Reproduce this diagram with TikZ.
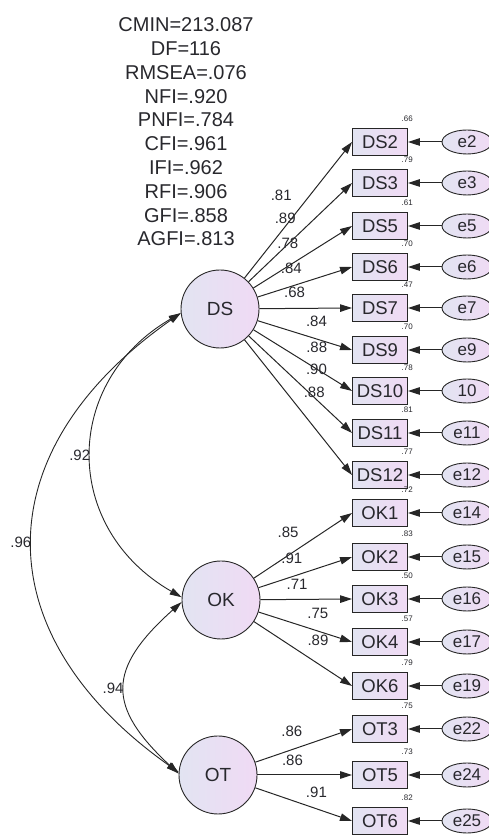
\documentclass[tikz,border=0pt]{standalone}
\usepackage{fontspec}
\setmainfont{Liberation Sans}
\usetikzlibrary{arrows.meta,positioning,shapes.geometric}
\definecolor{lavL}{RGB}{226,228,242}
\definecolor{lavR}{RGB}{240,218,244}
\definecolor{txtgray}{RGB}{40,40,45}

\begin{document}
\begin{tikzpicture}[x=1pt,y=1pt,
  latent/.style={circle,draw=black!85,line width=0.9pt,minimum size=78pt,inner sep=0pt,left color=lavL,right color=lavR,text=txtgray,font=\fontsize{19}{19}\selectfont},
  ind/.style={rectangle,draw=black!85,line width=0.9pt,minimum width=55pt,minimum height=27pt,inner sep=1pt,left color=lavL,right color=lavR,text=txtgray,font=\fontsize{18.5}{18.5}\selectfont},
  err/.style={ellipse,draw=black!85,line width=0.9pt,minimum width=50pt,minimum height=24pt,inner sep=0pt,left color=lavL,right color=lavR,text=txtgray,font=\fontsize{17}{17}\selectfont},
  arr/.style={-{Triangle[length=12pt,width=7.5pt]},line width=1pt,black!85},
  cov/.style={{Triangle[length=12pt,width=7pt]}-{Triangle[length=12pt,width=7pt]},line width=0.9pt,black!85},
  lbl/.style={font=\fontsize{15}{15}\selectfont,inner sep=1pt,text=txtgray,yshift=16pt},
  clbl/.style={font=\fontsize{15}{15}\selectfont,inner sep=1pt,text=txtgray},
  r2/.style={font=\fontsize{8}{8}\selectfont,inner sep=0.5pt,text=txtgray,xshift=-7pt,yshift=6pt},
  fitbox/.style={align=center,text=txtgray,font=\fontsize{20}{23.8}\selectfont}
]
  \useasboundingbox (0,0) rectangle (488,835);

  % Fit indices
  \node[fitbox] (fit) at (186,703) {CMIN=213.087\\DF=116\\RMSEA=.076\\NFI=.920\\PNFI=.784\\CFI=.961\\IFI=.962\\RFI=.906\\GFI=.858\\AGFI=.813};

  % Latent factors
  \node[latent] (DS) at (220,526) {DS};
  \node[latent] (OK) at (221,235) {OK};
  \node[latent] (OT) at (218,60) {OT};

  % DS indicators
  \node[ind,label={[r2]north east:.66}] (DS2) at (380,693) {DS2};
  \node[ind,label={[r2]north east:.79}] (DS3) at (380,652) {DS3};
  \node[ind,label={[r2]north east:.61}] (DS5) at (380,609) {DS5};
  \node[ind,label={[r2]north east:.70}] (DS6) at (380,568) {DS6};
  \node[ind,label={[r2]north east:.47}] (DS7) at (380,527) {DS7};
  \node[ind,label={[r2]north east:.70}] (DS9) at (380,485) {DS9};
  \node[ind,label={[r2]north east:.78}] (DS10) at (380,444) {DS10};
  \node[ind,label={[r2]north east:.81}] (DS11) at (380,402) {DS11};
  \node[ind,label={[r2]north east:.77}] (DS12) at (380,360) {DS12};

  % OK indicators
  \node[ind,label={[r2]north east:.72}] (OK1) at (380,322) {OK1};
  \node[ind,label={[r2]north east:.83}] (OK2) at (380,278) {OK2};
  \node[ind,label={[r2]north east:.50}] (OK3) at (380,236) {OK3};
  \node[ind,label={[r2]north east:.57}] (OK4) at (380,193) {OK4};
  \node[ind,label={[r2]north east:.79}] (OK6) at (380,149) {OK6};

  % OT indicators
  \node[ind,label={[r2]north east:.75}] (OT3) at (380,106) {OT3};
  \node[ind,label={[r2]north east:.73}] (OT5) at (380,60) {OT5};
  \node[ind,label={[r2]north east:.82}] (OT6) at (380,14) {OT6};

  % Error terms
  \node[err] (e2) at (467,693) {e2};
  \node[err] (e3) at (467,652) {e3};
  \node[err] (e5) at (467,609) {e5};
  \node[err] (e6) at (467,568) {e6};
  \node[err] (e7) at (467,527) {e7};
  \node[err] (e9) at (467,485) {e9};
  \node[err] (e10) at (467,444) {10};
  \node[err] (e11) at (467,402) {e11};
  \node[err] (e12) at (467,360) {e12};
  \node[err] (e14) at (467,322) {e14};
  \node[err] (e15) at (467,278) {e15};
  \node[err] (e16) at (467,236) {e16};
  \node[err] (e17) at (467,193) {e17};
  \node[err] (e19) at (467,149) {e19};
  \node[err] (e22) at (467,106) {e22};
  \node[err] (e24) at (467,60) {e24};
  \node[err] (e25) at (467,14) {e25};

  % Loadings
  \draw[arr] (DS) -- (DS2.west) node[lbl,pos=0.49,xshift=-16pt]{.81};
  \draw[arr] (DS) -- (DS3.west) node[lbl,pos=0.48,xshift=-13pt]{.89};
  \draw[arr] (DS) -- (DS5.west) node[lbl,pos=0.46,xshift=-11pt]{.78};
  \draw[arr] (DS) -- (DS6.west) node[lbl,pos=0.42,xshift=-6pt]{.84};
  \draw[arr] (DS) -- (DS7.west) node[lbl,pos=0.38]{.68};
  \draw[arr] (DS) -- (DS9.west) node[lbl,pos=0.57,xshift=5pt]{.84};
  \draw[arr] (DS) -- (DS10.west) node[lbl,pos=0.54,xshift=10pt]{.88};
  \draw[arr] (DS) -- (DS11.west) node[lbl,pos=0.51,xshift=15pt]{.90};
  \draw[arr] (DS) -- (DS12.west) node[lbl,pos=0.49,xshift=17pt,yshift=-2pt]{.88};
  \draw[arr] (OK) -- (OK1.west) node[lbl,pos=0.46,xshift=-11pt]{.85};
  \draw[arr] (OK) -- (OK2.west) node[lbl,pos=0.42,xshift=-6pt]{.91};
  \draw[arr] (OK) -- (OK3.west) node[lbl,pos=0.40,yshift=-1pt]{.71};
  \draw[arr] (OK) -- (OK4.west) node[lbl,pos=0.58,xshift=5pt]{.75};
  \draw[arr] (OK) -- (OK6.west) node[lbl,pos=0.54,xshift=11pt]{.89};
  \draw[arr] (OT) -- (OT3.west) node[lbl,pos=0.44,xshift=-6pt]{.86};
  \draw[arr] (OT) -- (OT5.west) node[lbl,pos=0.37,yshift=-1pt]{.86};
  \draw[arr] (OT) -- (OT6.west) node[lbl,pos=0.58,xshift=5pt,yshift=-1pt]{.91};

  % Error paths
  \draw[arr] (e2) -- (DS2);
  \draw[arr] (e3) -- (DS3);
  \draw[arr] (e5) -- (DS5);
  \draw[arr] (e6) -- (DS6);
  \draw[arr] (e7) -- (DS7);
  \draw[arr] (e9) -- (DS9);
  \draw[arr] (e10) -- (DS10);
  \draw[arr] (e11) -- (DS11);
  \draw[arr] (e12) -- (DS12);
  \draw[arr] (e14) -- (OK1);
  \draw[arr] (e15) -- (OK2);
  \draw[arr] (e16) -- (OK3);
  \draw[arr] (e17) -- (OK4);
  \draw[arr] (e19) -- (OK6);
  \draw[arr] (e22) -- (OT3);
  \draw[arr] (e24) -- (OT5);
  \draw[arr] (e25) -- (OT6);

  % Covariances
  \draw[cov] (DS.186) .. controls +(-119,-69) and +(-120,69) .. (OK.176) node[midway,left,clbl]{.92};
  \draw[cov] (DS.186) .. controls +(-197,-138) and +(-195,138) .. (OT.176) node[midway,left,clbl]{.96};
  \draw[cov] (OK.183) .. controls +(-75,-67) and +(-72,67) .. (OT.178) node[midway,left,clbl]{.94};
\end{tikzpicture}
\end{document}
